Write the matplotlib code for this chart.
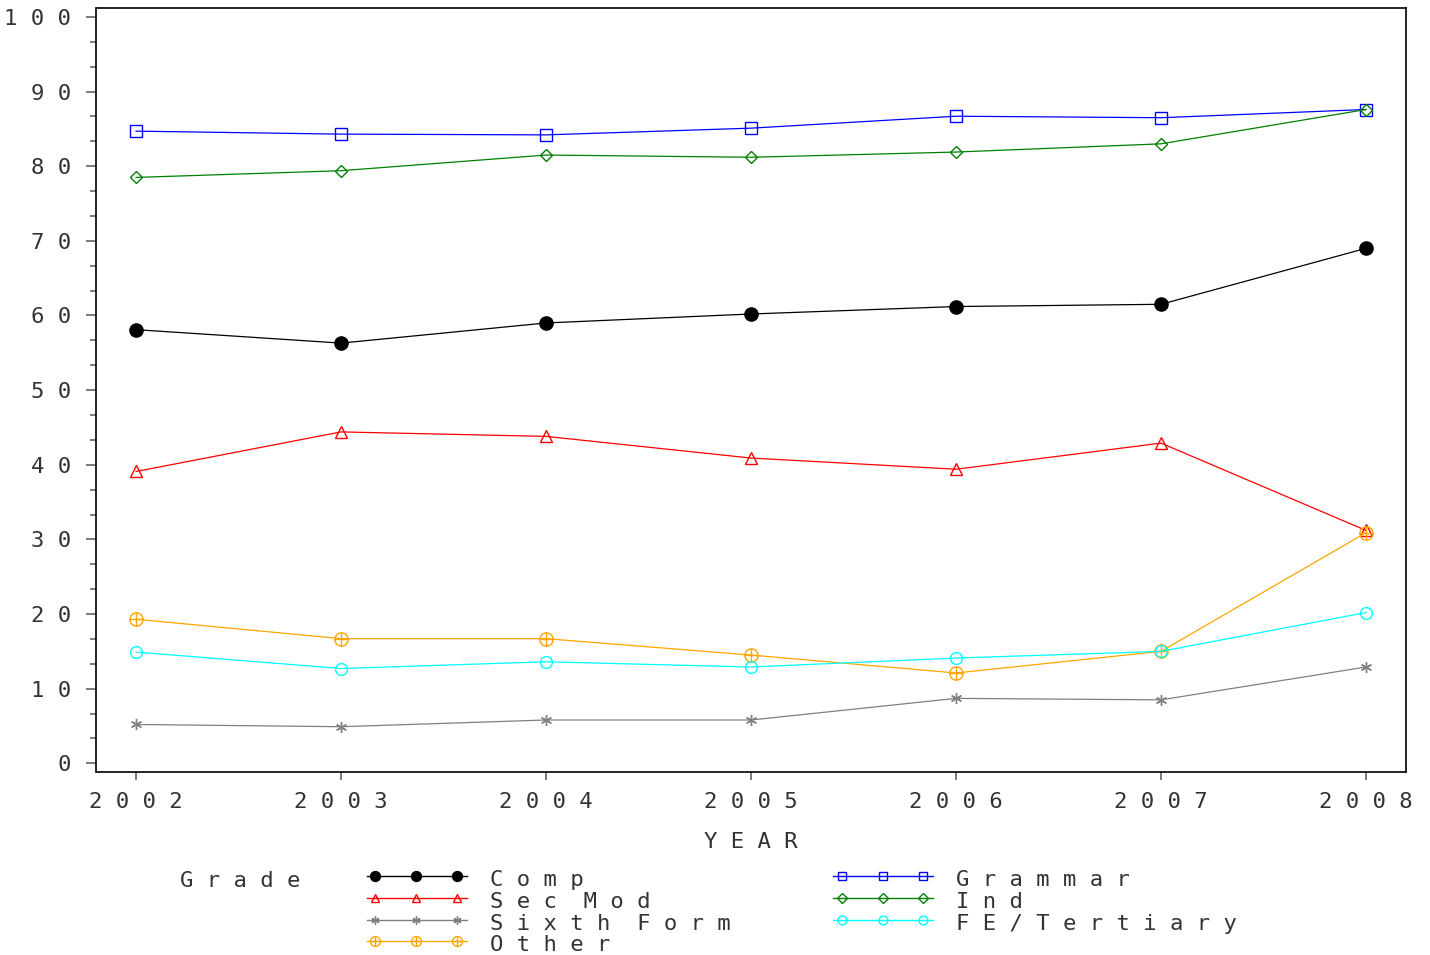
import matplotlib
matplotlib.use("Agg")
import matplotlib.pyplot as plt

years = [2002, 2003, 2004, 2005, 2006, 2007, 2008]
comp = [58.1, 56.3, 59.0, 60.2, 61.2, 61.5, 69.0]
sec_mod = [39.1, 44.4, 43.8, 40.9, 39.4, 42.9, 31.2]
sixth_form = [5.2, 4.9, 5.8, 5.8, 8.7, 8.5, 12.9]
other = [19.3, 16.7, 16.7, 14.5, 12.1, 15.0, 30.9]
grammar = [84.7, 84.3, 84.2, 85.1, 86.7, 86.5, 87.6]
ind = [78.5, 79.4, 81.5, 81.2, 81.9, 83.0, 87.6]
fe_tertiary = [14.9, 12.7, 13.6, 12.9, 14.1, 15.0, 20.2]

series_names = ["Comp", "Sec Mod", "Sixth Form", "Other", "Grammar", "Ind", "FE/Tertiary"]
series_values = [comp, sec_mod, sixth_form, other, grammar, ind, fe_tertiary]
y_ticks = [0, 10, 20, 30, 40, 50, 60, 70, 80, 90, 100]

styles = {
    "Comp": dict(color="black", marker="o", ms=9.5, mfc="black"),
    "Sec Mod": dict(color="#ff0000", marker="^", ms=8.5, mfc="none"),
    "Sixth Form": dict(color="#808080", marker=(6, 2, 0), ms=8, mfc="none"),
    "Other": dict(color="#ffa500", marker="o", ms=9.5, mfc="none", plus=True),
    "Grammar": dict(color="#0000ff", marker="s", ms=8, mfc="none"),
    "Ind": dict(color="#008000", marker="D", ms=6.5, mfc="none"),
    "FE/Tertiary": dict(color="#00ffff", marker="o", ms=8.5, mfc="none"),
}

FONT = "DejaVu Sans Mono"
FS = 16
TXT = "#333333"


def spaced(s):
    # wide letter spacing; a word gap becomes two spaces
    return " ".join(s).replace("   ", "  ")


W, H = 1430, 955
fig = plt.figure(figsize=(W / 100, H / 100), dpi=100)
ax = fig.add_axes([96.5 / W, 1 - 771.5 / H, (1406 - 96.5) / W, (771.5 - 8) / H])


def draw(axis, x, y, st, lw=0.9, scale=1.0):
    axis.plot(x, y, color=st["color"], lw=lw, marker=st["marker"], ms=st["ms"] * scale,
              mfc=st["mfc"], mec=st["color"], mew=1.0, clip_on=False)
    if st.get("plus"):
        axis.plot(x, y, ls="none", marker="+", ms=st["ms"] * scale, mec=st["color"],
                  mew=1.0, clip_on=False)


for name, vals in zip(series_names, series_values):
    draw(ax, years, vals, styles[name])

ax.set_xlim(2001.807, 2008.195)
ax.set_ylim(-1.1, 101.2)
ax.set_xticks(years)
ax.set_xticklabels([spaced(str(y)) for y in years], family=FONT)
ax.set_yticks(y_ticks)
ax.set_yticklabels([spaced(str(v)) for v in y_ticks], family=FONT)
ax.set_yticks([v + d for v in y_ticks[:-1] for d in (10 / 3, 20 / 3)], minor=True)

ax.tick_params(axis="y", which="major", length=7.5, width=1.2, color="#666666",
               labelsize=FS, labelcolor=TXT, pad=11, direction="out")
ax.tick_params(axis="y", which="minor", length=4.5, width=1.2, color="#666666", direction="out")
ax.tick_params(axis="x", which="major", length=6, width=1.2, color="#666666",
               labelsize=FS, labelcolor=TXT, pad=9, direction="out")
for sp in ax.spines.values():
    sp.set_linewidth(1.2)
    sp.set_color("black")

ax.set_xlabel(spaced("YEAR"), fontsize=FS, color=TXT, labelpad=14, family=FONT)

# legend area (pixel coordinates)
lax = fig.add_axes([0, 0, 1, 1])
lax.set_xlim(0, W)
lax.set_ylim(H, 0)
lax.axis("off")

lax.text(180, 881, spaced("Grade"), fontsize=FS, color=TXT, va="center", ha="left",
         family=FONT)
row_y = [876, 898, 920, 941]
col1 = dict(line=(367, 467), marks=[375, 416, 457], text=490)
col2 = dict(line=(833, 933), marks=[842, 883, 923], text=956)
for i, name in enumerate(series_names):
    col = col1 if i < 4 else col2
    y = row_y[i] if i < 4 else row_y[i - 4]
    st = styles[name]
    lax.plot(col["line"], [y, y], color=st["color"], lw=1.0)
    draw(lax, col["marks"], [y] * 3, st, lw=0, scale=0.75)
    lax.text(col["text"], y + 4, spaced(name), fontsize=FS, color=TXT,
             va="center", ha="left", family=FONT)

fig.savefig("out.png", dpi=100)
